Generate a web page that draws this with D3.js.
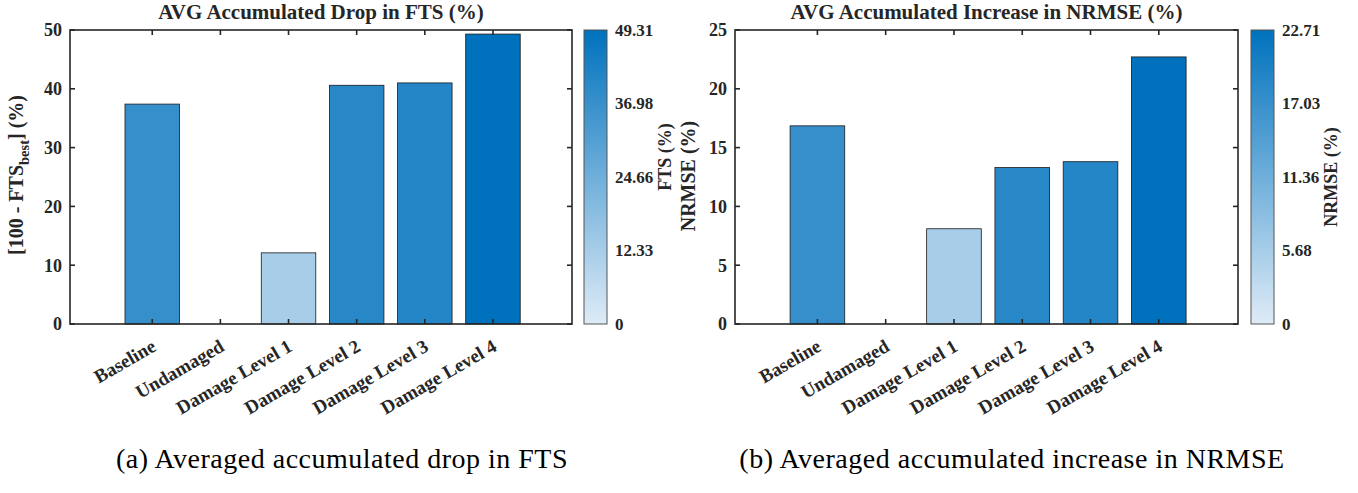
<!DOCTYPE html>
<html>
<head>
<meta charset="utf-8">
<script src="https://cdn.jsdelivr.net/npm/d3@7"></script>
<style>
  body { margin: 0; background: #fff; }
  svg text { font-family: "Liberation Serif", "Times New Roman", serif; fill: #262626; }
  .bold { font-weight: bold; }
  .axis-line { stroke: #262626; stroke-width: 1.6; fill: none; }
  .caption { font-weight: normal; fill: #000; }
</style>
</head>
<body>
<div id="chart"></div>
<script>
// categories and values
const categories = ['Baseline', 'Undamaged', 'Damage Level 1', 'Damage Level 2', 'Damage Level 3', 'Damage Level 4'];
const ftsDrop = [37.4, 0, 12.1, 40.6, 41.0, 49.31];
const nrmseIncrease = [16.85, 0, 8.1, 13.3, 13.8, 22.71];
const ftsTicks = [0, 10, 20, 30, 40, 50];
const nrmseTicks = [0, 5, 10, 15, 20, 25];
const ftsBarTicks = [0, 12.33, 24.66, 36.98, 49.31];
const nrmseBarTicks = [0, 5.68, 11.36, 17.03, 22.71];

const width = 1358;
const height = 493;
const plotTop = 30;
const plotBottom = 324;
const lightBlue = '#deebf7';
const darkBlue = '#0072bd';

// both panels share the bar colours, which follow the FTS drop
const barColor = d3.scaleLinear()
                   .domain([0, d3.max(ftsDrop)])
                   .range([lightBlue, darkBlue])
                   .interpolate(d3.interpolateRgb);

const svg = d3.select('#chart')
              .append('svg')
              .attr('width', width)
              .attr('height', height);

const defs = svg.append('defs');
const grad = defs.append('linearGradient')
                 .attr('id', 'cbar')
                 .attr('x1', 0).attr('y1', 1)
                 .attr('x2', 0).attr('y2', 0);
grad.append('stop').attr('offset', '0%').attr('stop-color', lightBlue);
grad.append('stop').attr('offset', '100%').attr('stop-color', darkBlue);

drawPanel({
  left: 70, right: 572,
  values: ftsDrop, yMax: 50, yTicks: ftsTicks,
  cbarX: 584, cbarTicks: ftsBarTicks,
  title: 'AVG Accumulated Drop in FTS (%)',
  yLabelX: 23, yLabelY: 175, subLabel: true,
  cbarLabel: 'FTS (%)', cbarLabelX: 671, cbarLabelY: 157,
  caption: '(a) Averaged accumulated drop in FTS', captionX: 342
});

drawPanel({
  left: 735, right: 1238,
  values: nrmseIncrease, yMax: 25, yTicks: nrmseTicks,
  cbarX: 1251, cbarTicks: nrmseBarTicks,
  title: 'AVG Accumulated Increase in NRMSE (%)',
  yLabelX: 695, yLabelY: 176, yLabel: 'NRMSE (%)',
  cbarLabel: 'NRMSE (%)', cbarLabelX: 1337, cbarLabelY: 177,
  caption: '(b) Averaged accumulated increase in NRMSE', captionX: 1012
});

function drawPanel(p) {
  const g = svg.append('g');
  const x = d3.scaleLinear().domain([-1.207, 6.16]).range([p.left, p.right]);
  const y = d3.scaleLinear().domain([0, p.yMax]).range([plotBottom, plotTop]);
  const maxVal = d3.max(p.values);
  const halfBar = 0.4;

  // bars
  g.selectAll('rect.bar')
   .data(p.values)
   .enter()
   .append('rect')
   .attr('class', 'bar')
   .attr('x', (d, i) => x(i - halfBar))
   .attr('width', (d, i) => x(i + halfBar) - x(i - halfBar))
   .attr('y', (d) => y(d))
   .attr('height', (d) => y(0) - y(d))
   .attr('fill', (d, i) => barColor(ftsDrop[i]))
   .attr('stroke', '#1a1a1a')
   .attr('stroke-width', 0.8);

  // ticks, inward on all four sides
  const tickLen = 5;
  categories.forEach((c, i) => {
    drawLine(g, x(i), plotBottom, x(i), plotBottom - tickLen);
    drawLine(g, x(i), plotTop, x(i), plotTop + tickLen);
  });
  p.yTicks.forEach((t) => {
    drawLine(g, p.left, y(t), p.left + tickLen, y(t));
    drawLine(g, p.right, y(t), p.right - tickLen, y(t));
  });

  // box
  g.append('rect')
   .attr('class', 'axis-line')
   .attr('x', p.left)
   .attr('y', plotTop)
   .attr('width', p.right - p.left)
   .attr('height', plotBottom - plotTop);

  // y tick labels
  g.selectAll('text.ytick')
   .data(p.yTicks)
   .enter()
   .append('text')
   .attr('class', 'bold')
   .attr('x', p.left - 8)
   .attr('y', (d) => y(d))
   .attr('dy', '0.35em')
   .attr('text-anchor', 'end')
   .style('font-size', '18px')
   .text((d) => d);

  // x tick labels, rotated 30deg
  g.selectAll('text.xtick')
   .data(categories)
   .enter()
   .append('text')
   .attr('class', 'bold')
   .attr('text-anchor', 'end')
   .attr('transform', (d, i) => 'translate(' + (x(i) + 5) + ',' + (plotBottom + 26) + ') rotate(-30)')
   .style('font-size', '19px')
   .text((d) => d);

  // title
  g.append('text')
   .attr('class', 'bold')
   .attr('x', (p.left + p.right) / 2)
   .attr('y', 19)
   .attr('text-anchor', 'middle')
   .style('font-size', '21px')
   .text(p.title);

  // y label
  const yl = g.append('text')
              .attr('class', 'bold')
              .attr('text-anchor', 'middle')
              .attr('transform', 'translate(' + p.yLabelX + ',' + p.yLabelY + ') rotate(-90)')
              .style('font-size', '20px');
  if (p.subLabel) {
    yl.append('tspan').text('[100 - FTS');
    yl.append('tspan').attr('dy', 6).style('font-size', '14.5px').text('best');
    yl.append('tspan').attr('dy', -6).text('] (%)');
  } else {
    yl.text(p.yLabel);
  }

  // colorbar
  const cbarW = 23;
  const cy = d3.scaleLinear().domain([0, maxVal]).range([plotBottom, plotTop]);
  g.append('rect')
   .attr('x', p.cbarX)
   .attr('y', plotTop)
   .attr('width', cbarW)
   .attr('height', plotBottom - plotTop)
   .attr('fill', 'url(#cbar)')
   .attr('stroke', '#555')
   .attr('stroke-width', 1);
  p.cbarTicks.forEach((t) => {
    drawLine(g, p.cbarX + cbarW - 3, cy(t), p.cbarX + cbarW, cy(t), 'cbar-tick');
  });
  g.selectAll('text.cbtick')
   .data(p.cbarTicks)
   .enter()
   .append('text')
   .attr('class', 'bold')
   .attr('x', p.cbarX + cbarW + 8)
   .attr('y', (d) => cy(d))
   .attr('dy', '0.35em')
   .style('font-size', '17px')
   .text((d) => d);

  g.append('text')
   .attr('class', 'bold')
   .attr('text-anchor', 'middle')
   .attr('transform', 'translate(' + p.cbarLabelX + ',' + p.cbarLabelY + ') rotate(-90)')
   .style('font-size', '18px')
   .text(p.cbarLabel);

  // caption under the panel
  svg.append('text')
     .attr('class', 'caption')
     .attr('x', p.captionX)
     .attr('y', 468)
     .attr('text-anchor', 'middle')
     .style('font-size', '28px')
     .style('letter-spacing', '0.5px')
     .text(p.caption);
}

function drawLine(el, x1, y1, x2, y2, className) {
  el.append('line')
    .attr('x1', x1).attr('y1', y1)
    .attr('x2', x2).attr('y2', y2)
    .attr('class', className || 'axis-line');
}
</script>
</body>
</html>
